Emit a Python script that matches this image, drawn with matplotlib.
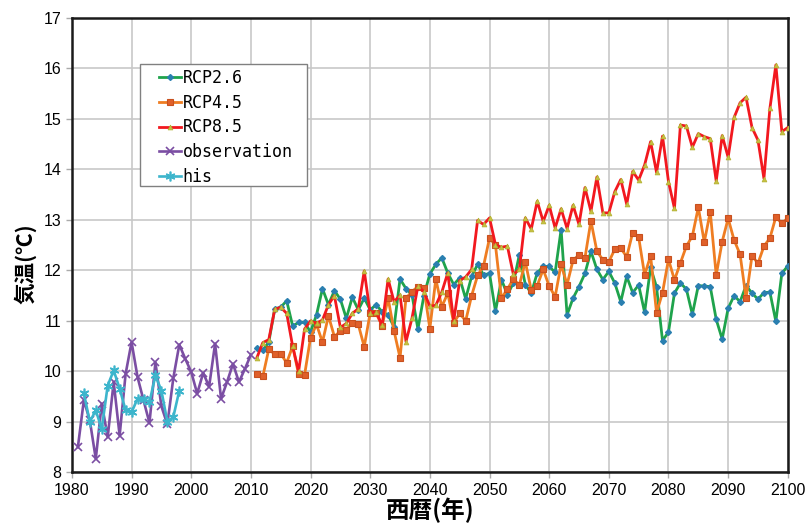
import matplotlib
matplotlib.use("Agg")
import matplotlib.pyplot as plt
from matplotlib.ticker import MultipleLocator
from matplotlib.patches import Rectangle
from matplotlib.legend_handler import HandlerLine2D

plt.rcParams['font.family'] = ['Liberation Sans', 'Noto Sans CJK JP', 'DejaVu Sans']

obs_years = list(range(1981, 2011))
obs_vals = [8.50, 9.43, 9.03, 8.27, 9.36, 8.70, 9.79, 8.73, 9.95, 10.58,
            9.89, 9.43, 8.98, 10.18, 9.31, 8.95, 9.87, 10.53, 10.25, 9.99,
            9.56, 9.97, 9.70, 10.55, 9.46, 9.79, 10.15, 9.79, 10.05, 10.33]

his_years = list(range(1982, 1999))
his_vals = [9.57, 9.00, 9.23, 8.86, 9.72, 10.02, 9.66, 9.23, 9.19, 9.46,
            9.46, 9.39, 9.92, 9.62, 9.00, 9.10, 9.62]

rcp_years = list(range(2011, 2101))
rcp26 = [10.47, 10.42, 10.58, 11.24, 11.27, 11.40, 10.90, 10.97, 10.97, 10.78,
         11.12, 11.64, 11.32, 11.60, 11.43, 11.05, 11.47, 11.22, 11.45, 11.22,
         11.32, 11.18, 11.12, 10.88, 11.83, 11.64, 11.52, 10.84, 11.50, 11.93,
         12.12, 12.25, 11.95, 11.72, 11.85, 11.44, 11.88, 12.12, 11.91, 11.94,
         11.19, 11.82, 11.52, 11.75, 12.31, 11.72, 11.55, 11.95, 12.08, 12.08,
         11.96, 12.81, 11.12, 11.45, 11.68, 11.94, 12.38, 12.02, 11.82, 11.98,
         11.75, 11.38, 11.88, 11.56, 11.71, 11.17, 12.06, 11.67, 10.61, 10.78,
         11.55, 11.75, 11.63, 11.13, 11.70, 11.69, 11.68, 11.03, 10.64, 11.25,
         11.50, 11.38, 11.70, 11.55, 11.43, 11.56, 11.57, 10.99, 11.94, 12.09]
rcp45 = [9.94, 9.90, 10.44, 10.34, 10.35, 10.17, 10.50, 9.94, 9.93, 10.67,
         10.93, 10.58, 11.10, 10.69, 10.80, 10.83, 10.96, 10.93, 10.49, 11.16,
         11.15, 10.90, 11.45, 10.80, 10.27, 11.45, 11.58, 11.68, 11.65, 10.85,
         11.83, 11.28, 11.55, 10.96, 11.15, 11.00, 11.50, 11.90, 12.09, 12.64,
         12.50, 11.45, 11.63, 11.83, 11.71, 12.17, 11.61, 11.70, 12.02, 11.69,
         11.48, 12.12, 11.72, 12.20, 12.31, 12.25, 12.98, 12.38, 12.21, 12.17,
         12.42, 12.44, 12.27, 12.75, 12.66, 11.91, 12.29, 11.16, 11.56, 12.22,
         11.81, 12.15, 12.48, 12.68, 13.25, 12.56, 13.16, 11.91, 12.57, 13.03,
         12.60, 12.32, 11.45, 12.29, 12.14, 12.48, 12.64, 13.06, 12.93, 13.04]
rcp85 = [10.27, 10.57, 10.63, 11.23, 11.27, 11.15, 10.50, 10.00, 10.84, 11.00,
         10.95, 11.02, 11.32, 11.50, 10.87, 10.95, 11.15, 11.24, 11.99, 11.15,
         11.18, 10.91, 11.83, 11.38, 11.51, 10.59, 11.05, 11.69, 11.58, 11.29,
         11.31, 11.57, 11.95, 11.00, 11.80, 11.87, 12.02, 12.99, 12.91, 13.04,
         12.51, 12.46, 12.48, 11.92, 12.02, 13.04, 12.82, 13.37, 12.97, 13.29,
         12.84, 13.22, 12.83, 13.29, 12.91, 13.64, 13.17, 13.85, 13.14, 13.14,
         13.56, 13.80, 13.31, 13.96, 13.79, 14.09, 14.55, 13.94, 14.66, 13.76,
         13.23, 14.88, 14.86, 14.44, 14.71, 14.65, 14.61, 13.77, 14.67, 14.24,
         15.03, 15.32, 15.43, 14.83, 14.58, 13.82, 15.21, 16.07, 14.75, 14.83]

series_labels = ["RCP2.6", "RCP4.5", "RCP8.5", "observation", "his"]
x_label = "西暦(年)"
y_label = "気温(℃)"

fig = plt.figure(figsize=(8.08, 5.29), dpi=100)
ax = fig.add_axes([0.089, 0.107, 0.886, 0.859])

l_obs, = ax.plot(obs_years, obs_vals, color="#7b4ea3", lw=1.9, marker="x", ms=6, mew=1.2,
                 label=series_labels[3], zorder=3)
l_his, = ax.plot(his_years, his_vals, color="#3db5cc", lw=1.9, marker=(6, 2, 0), ms=7, mew=1.2,
                 label=series_labels[4], zorder=4)
l26, = ax.plot(rcp_years, rcp26, color="#1fa34c", lw=2.0, marker="D", ms=3, mfc="#2a7fb0",
               mec="#2a7fb0", label=series_labels[0], zorder=5)
l45, = ax.plot(rcp_years, rcp45, color="#ef7d22", lw=2.0, marker="s", ms=4, mfc="#e0602a",
               mec="#c8501e", mew=0.8, label=series_labels[1], zorder=6)
l85, = ax.plot(rcp_years, rcp85, color="#f2181f", lw=2.0, marker="^", ms=3.5, mfc="#c8c040",
               mec="#b0b030", mew=0.5, label=series_labels[2], zorder=7)

ax.set_xlim(1980, 2100)
ax.set_ylim(8, 17)
ax.xaxis.set_major_locator(MultipleLocator(10))
ax.yaxis.set_major_locator(MultipleLocator(1))
ax.grid(True, color="#c8c8c8", lw=1.2)
ax.set_axisbelow(True)
for s in ax.spines.values():
    s.set_linewidth(1.8)
    s.set_color("#1a1a1a")
ax.tick_params(axis="both", labelsize=11.5, length=4, color="#aaaaaa", width=1)

ax.set_xlabel(x_label, fontsize=17, fontweight="bold",
              family=["Noto Sans CJK JP", "DejaVu Sans"], labelpad=0)
ax.set_ylabel(y_label, fontsize=15.5, fontweight="bold",
              family=["Noto Sans CJK JP", "DejaVu Sans"])
ax.yaxis.set_label_coords(-0.05, 0.46)

# legend frame
ax.add_patch(Rectangle((0.095, 0.630), 0.233, 0.268, transform=ax.transAxes,
                       facecolor="white", edgecolor="#808080", lw=1.0, zorder=9))
hmap = {h: HandlerLine2D(xpad=1.0) for h in (l26, l45, l85, l_obs, l_his)}
leg = ax.legend([l26, l45, l85, l_obs, l_his], series_labels,
                loc="upper left", bbox_to_anchor=(0.094, 0.895), borderaxespad=0,
                frameon=False, handler_map=hmap,
                prop={"family": "DejaVu Sans Mono", "size": 12},
                handlelength=2.3, handletextpad=0.1, labelspacing=0.4,
                numpoints=1, borderpad=0.2)
leg.set_zorder(10)

fig.savefig("out.png", dpi=100)
